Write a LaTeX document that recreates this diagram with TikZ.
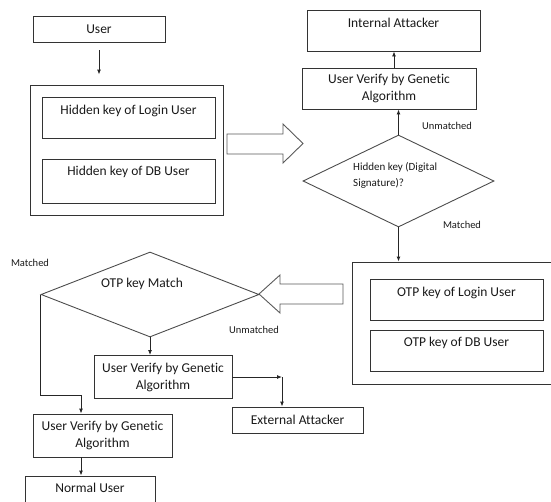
\documentclass[tikz,border=0pt]{standalone}
\usepackage{fontspec}
\setmainfont{Carlito}[Ligatures={NoCommon}]
\usetikzlibrary{shapes.geometric,arrows.meta}
\begin{document}
\begin{tikzpicture}[x=1pt,y=-1pt,
  every node/.style={font=\fontsize{13.5}{17}\selectfont, text=black!90},
  box/.style={draw=black!80, line width=0.9pt, inner sep=0pt, rectangle, align=center},
  dia/.style={draw=black!70, line width=0.9pt, diamond, inner sep=0pt},
  lab/.style={font=\fontsize{10.5}{12}\selectfont, inner sep=0pt},
  arr/.style={draw=black!85, line width=0.9pt, -{Latex[length=5pt,width=4pt]}},
  blockarrow/.style={draw=black!65, line width=0.9pt, line join=miter},
]
\useasboundingbox (0,0) rectangle (551,501);
\clip (0,0) rectangle (551,501);

% left top column
\node[box, minimum width=132pt, minimum height=26pt] (user) at (99,29) {User};
\node[box, minimum width=193pt, minimum height=130pt] (big1) at (126.5,150) {};
\node[box, minimum width=173pt, minimum height=41pt,
  label={[anchor=center,yshift=-14pt]north:Hidden key of Login User}] (hl) at (128.5,117.5) {};
\node[box, minimum width=173pt, minimum height=44pt,
  label={[anchor=center,yshift=-13pt]north:Hidden key of DB User}] (hd) at (128.5,181) {};
\draw[arr, shorten <=8pt, shorten >=10pt] (user.south) -- (user.south |- big1.north);

% block arrow right
\draw[blockarrow] (227,134) -- (283,134) -- (283,124) -- (303,143.5) -- (283,163) -- (283,154) -- (227,154) -- cycle;

% right top column
\node[box, minimum width=173pt, minimum height=41pt,
  label={[anchor=center,yshift=-13pt]north:Internal Attacker}] (ia) at (393.5,30.5) {};
\node[box, minimum width=174pt, minimum height=41pt] (uv1) at (389,88.5) {User Verify by Genetic\\Algorithm};
\node[dia, minimum width=191pt, minimum height=92pt] (d1) at (398.5,181) {};
\node[anchor=west, align=left, inner sep=0pt, font=\fontsize{11}{16}\selectfont] (d1t) at (353,175) {Hidden key (Digital\\Signature)?};
\node[lab] (un1) at (447,126) {Unmatched};
\node[lab] (ma1) at (462,225) {Matched};
\draw[arr] (d1.north) -- (d1.north |- uv1.south);
\draw[arr] ([xshift=5pt]uv1.north) -- ([xshift=5pt]uv1.north |- ia.south);

% right middle
\node[box, minimum width=208pt, minimum height=122pt] (big2) at (456,323) {};
\node[box, minimum width=173pt, minimum height=41pt,
  label={[anchor=center,yshift=-14pt]north:OTP key of Login User}] (ol) at (456.5,299.5) {};
\node[box, minimum width=173pt, minimum height=41pt,
  label={[anchor=center,yshift=-13pt]north:OTP key of DB User}] (od) at (456.5,350.5) {};
\draw[arr] (d1.south) -- (d1.south |- big2.north);

% block arrow left
\draw[blockarrow] (343,284) -- (280,284) -- (280,275) -- (259,294) -- (280,313) -- (280,304) -- (343,304) -- cycle;

% OTP diamond
\node[dia, minimum width=218pt, minimum height=85pt] (d2) at (150,294.5) {};
\node (d2t) at (142,284) {OTP key Match};
\node[lab] (ma2) at (30,263) {Matched};
\node[lab] (un2) at (254,330) {Unmatched};

\node[box, minimum width=138pt, minimum height=43pt] (uv2) at (163,377) {User Verify by Genetic\\Algorithm};
\node[box, minimum width=131pt, minimum height=26pt] (ext) at (297.5,420) {External Attacker};
\node[box, minimum width=139pt, minimum height=43pt] (uv3) at (102.5,435.5) {User Verify by Genetic\\Algorithm};
\node[box, minimum width=130pt, minimum height=44pt,
  label={[anchor=center,yshift=-12pt]north:Normal User}] (nu) at (90,498) {};

\draw[arr] (d2.south) -- (d2.south |- uv2.north);
\coordinate (c1) at (282,377);
\draw[arr] (uv2.east) -- (c1);
\draw[arr] (c1) -- (c1 |- ext.north);
\coordinate (m1) at (81,395);
\draw[arr] (d2.west) |- (m1) -- (m1 |- uv3.north);
\draw[arr] (uv3.south -| m1) -- (nu.north -| m1);
\end{tikzpicture}
\end{document}
